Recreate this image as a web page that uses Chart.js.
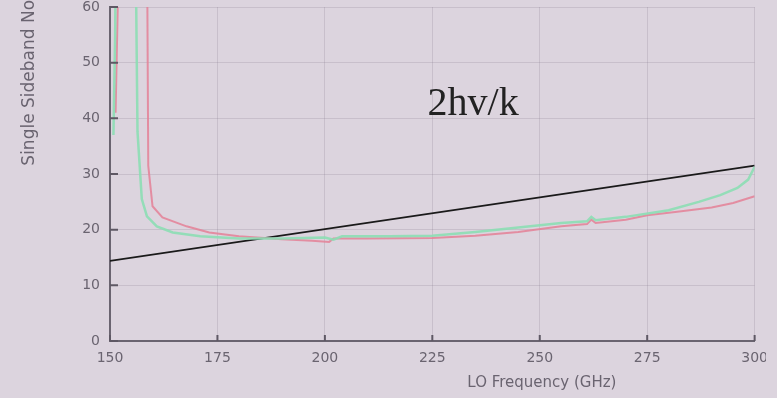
<!DOCTYPE html>
<html lang="en">
<head>
    <meta charset="UTF-8">
    <title>Single Sideband Noise vs LO Frequency</title>
    <script src="https://cdn.jsdelivr.net/npm/chart.js"></script>
    <style>
        body {
            margin: 0;
            background-color: rgb(220, 212, 222);
            overflow: hidden;
        }
        #wrap {
            position: absolute;
            left: 0;
            top: 0;
            width: 766px;
            height: 398px;
            overflow: hidden;
        }
        #noiseChart {
            position: absolute;
            left: 0;
            top: -40px;
        }
    </style>
</head>
<body>
    <div id="wrap">
        <canvas id="noiseChart" width="777" height="438"></canvas>
    </div>

    <script>
        // LO frequency (GHz) and SSB noise (K)
        const freqGreen = [150.8, 151.2, 151.6, 155.6, 156.1, 156.4, 157.4, 158.6, 160.9, 164.6, 171, 180, 190, 200,
            202, 204, 215, 225, 235, 245, 255, 261, 262, 263, 270, 280, 287, 292, 296, 298.5, 300];
        const noiseGreen = [37, 55, 95, 95, 60, 37.6, 25.5, 22.4, 20.6, 19.5, 18.8, 18.4, 18.4, 18.6,
            18.2, 18.8, 18.8, 18.9, 19.6, 20.4, 21.2, 21.5, 22.3, 21.7, 22.3, 23.5, 25, 26.2, 27.5, 29, 31.3];

        const freqRed = [151.3, 151.8, 152.4, 158.2, 158.7, 158.9, 159.9, 162.2, 167.8, 173.1, 180, 190, 197,
            201, 202, 210, 225, 235, 245, 255, 261, 262, 263, 270, 275, 282, 290, 295, 300];
        const noiseRed = [41, 60, 95, 95, 60, 31.5, 24.2, 22.2, 20.6, 19.5, 18.8, 18.3, 18.0,
            17.8, 18.4, 18.4, 18.5, 18.9, 19.6, 20.6, 21.0, 21.8, 21.2, 21.8, 22.6, 23.2, 24.0, 24.8, 26.0];

        // 2hv/k reference line
        const freqLine = [150, 300];
        const tempLine = [14.4, 31.5];

        const xTicks = [150, 175, 200, 225, 250, 275, 300];
        const yTicks = [0, 10, 20, 30, 40, 50, 60];

        const toPoints = (xs, ys) => xs.map((x, i) => ({ x: x, y: ys[i] }));

        // inward tick marks, annotation and axis titles
        const textLabels = {
            id: 'textLabels',
            afterDraw(chart) {
                const c = chart.ctx;
                const xs = chart.scales.x;
                const ys = chart.scales.y;
                const area = chart.chartArea;
                c.save();
                c.strokeStyle = '#5e5864';
                c.lineWidth = 2;
                c.beginPath();
                yTicks.forEach(v => {
                    const py = ys.getPixelForValue(v);
                    c.moveTo(area.left, py);
                    c.lineTo(area.left + 8, py);
                });
                xTicks.forEach(v => {
                    const px = xs.getPixelForValue(v);
                    c.moveTo(px, area.bottom);
                    c.lineTo(px, area.bottom - 6);
                });
                c.stroke();

                c.fillStyle = '#222';
                c.font = '40px "Liberation Serif"';
                c.textAlign = 'center';
                c.textBaseline = 'middle';
                c.fillText('2hv/k', xs.getPixelForValue(234.5), ys.getPixelForValue(42.5));

                c.fillStyle = '#6a6470';
                c.font = '15px "DejaVu Sans"';
                c.fillText('LO Frequency (GHz)', xs.getPixelForValue(250.5), area.bottom + 42);

                c.translate(30, ys.getPixelForValue(31.5));
                c.rotate(-Math.PI / 2);
                c.textAlign = 'left';
                c.font = '17px "DejaVu Sans"';
                c.fillText('Single Sideband Noise Temperature (K)', 0, 0);
                c.restore();
            }
        };

        const ctx = document.getElementById('noiseChart').getContext('2d');

        new Chart(ctx, {
            type: 'line',
            data: {
                datasets: [{
                    data: toPoints(freqGreen, noiseGreen),
                    borderColor: 'rgba(140, 222, 180, 0.9)',
                    borderWidth: 2.5,
                    pointRadius: 0,
                    tension: 0
                }, {
                    data: toPoints(freqRed, noiseRed),
                    borderColor: 'rgba(228, 128, 150, 0.85)',
                    borderWidth: 2,
                    pointRadius: 0,
                    tension: 0
                }, {
                    data: toPoints(freqLine, tempLine),
                    borderColor: '#1a1a1a',
                    borderWidth: 1.6,
                    pointRadius: 0
                }]
            },
            options: {
                responsive: false,
                animation: false,
                layout: {
                    padding: { top: 47, right: 21, bottom: 0, left: 0 }
                },
                scales: {
                    x: {
                        type: 'linear',
                        min: 150,
                        max: 300,
                        afterBuildTicks: s => { s.ticks = xTicks.map(v => ({ value: v })); },
                        afterFit: s => { s.height = 57; },
                        border: { color: '#6a6470', width: 2 },
                        grid: { color: 'rgba(120, 110, 130, 0.2)', drawTicks: false },
                        ticks: {
                            color: '#6a6470',
                            padding: 9,
                            font: { family: 'DejaVu Sans', size: 14 }
                        }
                    },
                    y: {
                        min: 0,
                        max: 60,
                        afterBuildTicks: s => { s.ticks = yTicks.map(v => ({ value: v })); },
                        afterFit: s => { s.width = 110; },
                        border: { color: '#6a6470', width: 2 },
                        grid: { color: 'rgba(120, 110, 130, 0.2)', drawTicks: false },
                        ticks: {
                            color: '#6a6470',
                            padding: 10,
                            font: { family: 'DejaVu Sans', size: 14 }
                        }
                    }
                },
                plugins: {
                    legend: { display: false },
                    tooltip: { enabled: false }
                }
            },
            plugins: [textLabels]
        });
    </script>
</body>
</html>
